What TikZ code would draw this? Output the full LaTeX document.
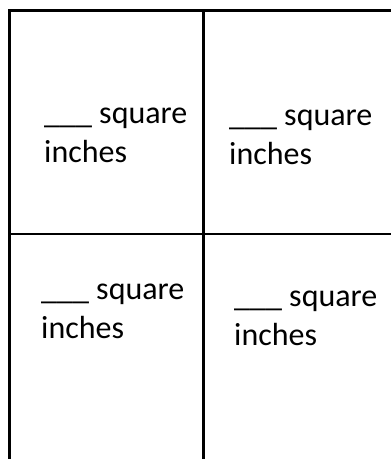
\documentclass[tikz,border=0pt]{standalone}
\usepackage{fontspec}
\setmainfont{Carlito}
\usepackage{tikz}
\usetikzlibrary{positioning}

\begin{document}
\begin{tikzpicture}[x=1pt, y=-1pt,
    gridline/.style={line width=2.6pt, black},
    answer/.style={inner sep=0pt, anchor=base west, align=left, font=\fontsize{32}{39}\selectfont}]
    \useasboundingbox (0,0) rectangle (391,459);
    % grid
    \draw[gridline] (8,10.5) -- (391,10.5);
    \draw[gridline] (9.5,10) -- (9.5,459);
    \draw[gridline] (203.5,10) -- (203.5,459);
    \draw[gridline] (9,234) -- (391,234);
    % cells (anchored on the baseline of the second line)
    \node[answer] (topleft) at (44,162) {\_\_\_ square\\inches};
    \node[answer] (topright) at (229,164) {\_\_\_ square\\inches};
    \node[answer] (bottomleft) at (41,338) {\_\_\_ square\\inches};
    \node[answer] (bottomright) at (234,345) {\_\_\_ square\\inches};
  \end{tikzpicture}
\end{document}
